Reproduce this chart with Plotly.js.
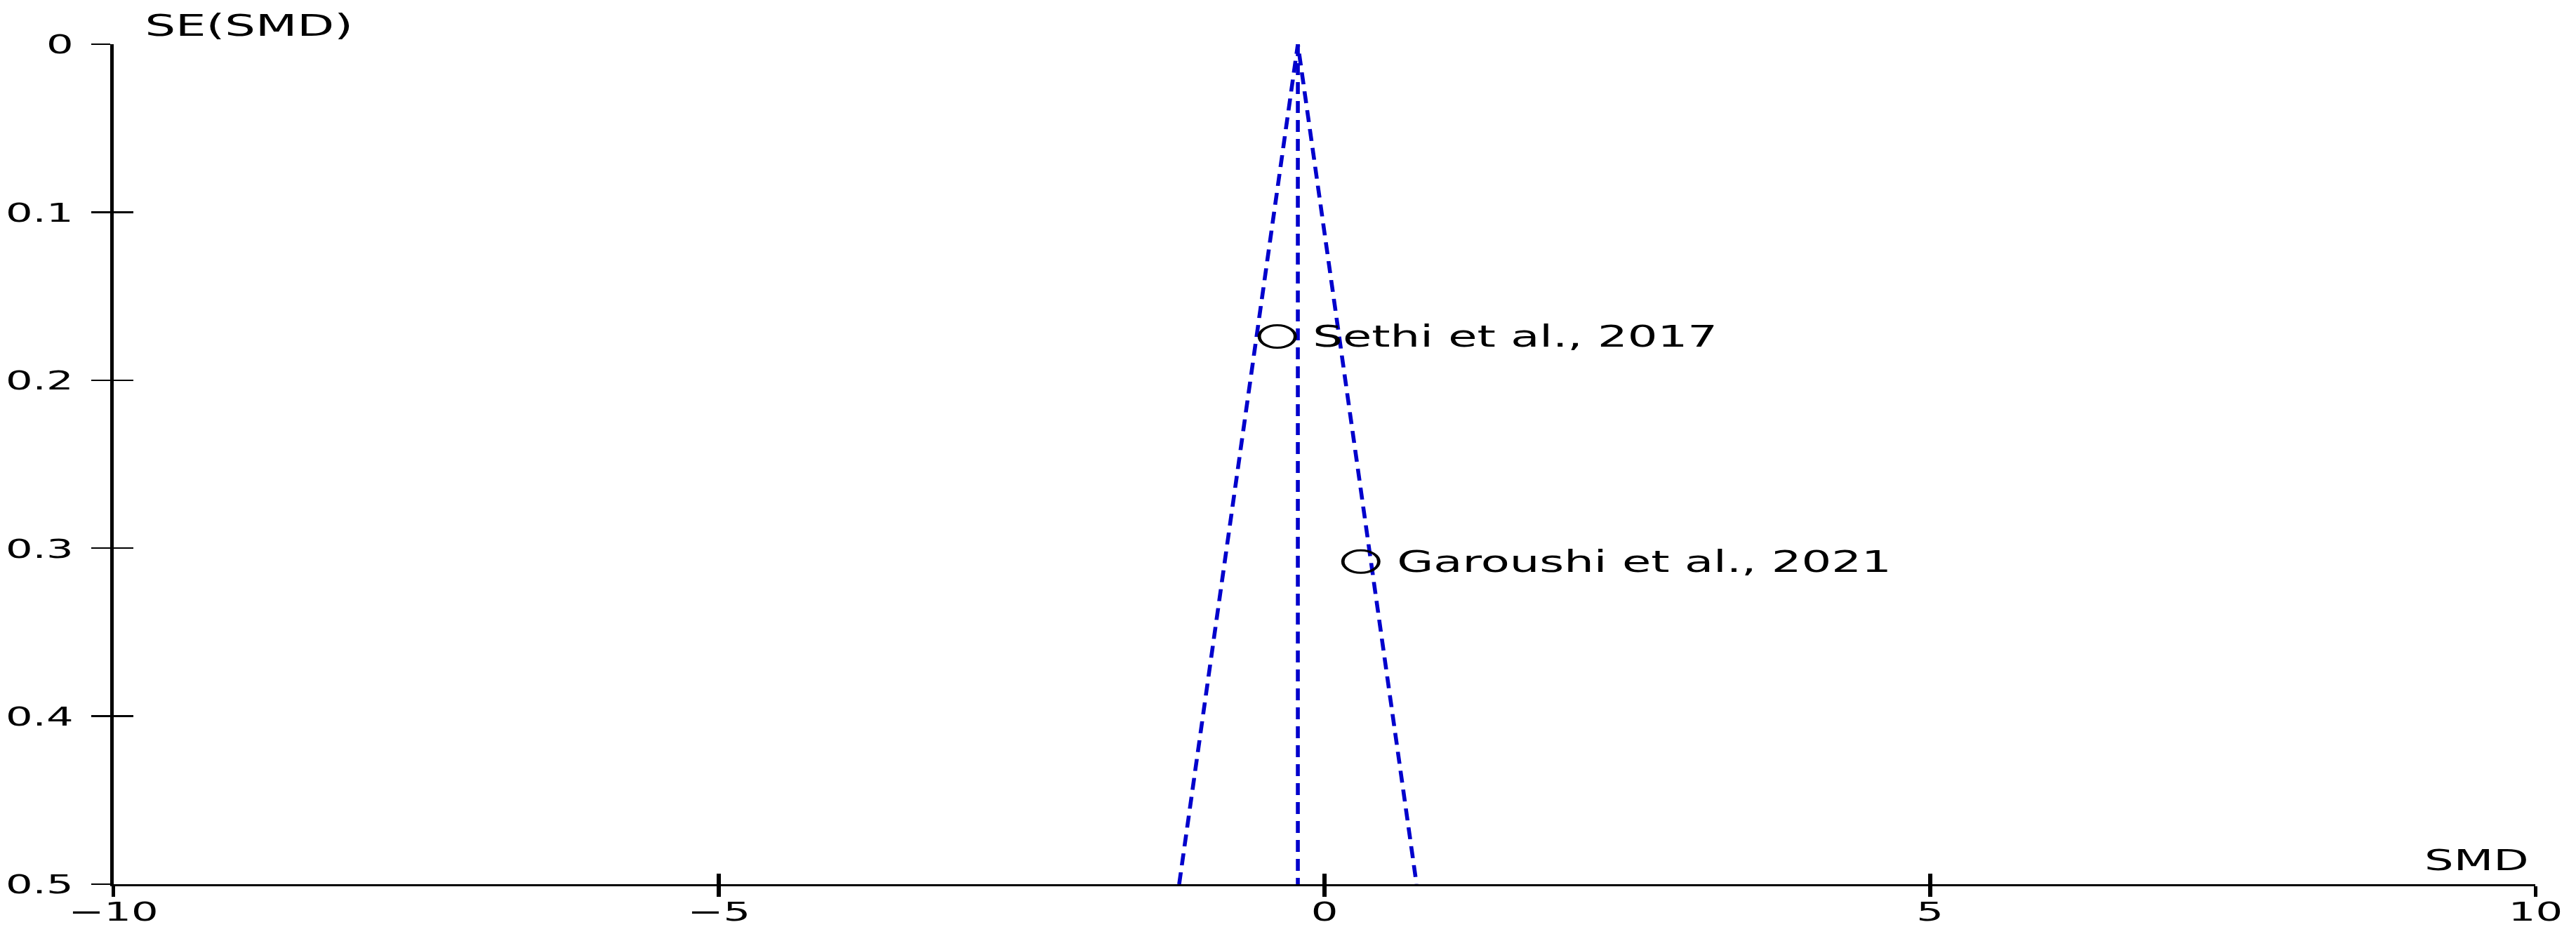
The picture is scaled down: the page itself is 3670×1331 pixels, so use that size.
<!DOCTYPE html>
<html>
<head>
<meta charset="utf-8">
<script src="https://cdn.plot.ly/plotly-3.0.1.min.js"></script>
<style>
  html, body { margin: 0; padding: 0; background: #fff; overflow: hidden; }
  /* the reference is a funnel plot stretched ~1.6x horizontally: draw it narrow, then stretch */
  #wykres { width: 2294px; height: 1331px; transform: scaleX(1.59983); transform-origin: 0 0; }
</style>
</head>
<body>
<div id="wykres"></div>
<script>
// funnel plot SE(SMD) vs SMD
const studies = ['Sethi et al., 2017', 'Garoushi et al., 2021'];
const smd = [-0.39, 0.30];
const se = [0.174, 0.308];

const pooledX = [-0.22, -0.22];          // pooled SMD, vertical line
const pooledY = [0, 0.5];
const funnelX = [-1.20, -0.22, 0.76];     // pseudo 95% limits
const funnelY = [0.5, 0, 0.5];

const xTicks = [-10, -5, 0, 5, 10];
const xTickText = ['\u221210', '\u22125', '0', '5', '10'];
const yTicks = [0, 0.1, 0.2, 0.3, 0.4, 0.5];
const yTickText = ['0', '0.1', '0.2', '0.3', '0.4', '0.5'];

const BLUE = '#0000cc';
const FONT = 'DejaVu Sans, Arial, sans-serif';
const xRange = [-10, 10];
const yRange = [0.5, 0];

const traces = [
  {
    x: funnelX, y: funnelY, mode: 'lines', hoverinfo: 'skip',
    line: { color: BLUE, width: 3.5, dash: '17px,10px' },
  },
  {
    x: pooledX, y: pooledY, mode: 'lines', hoverinfo: 'skip',
    line: { color: BLUE, width: 3.5, dash: '17px,10px' },
  },
  {
    x: smd, y: se, mode: 'markers', hoverinfo: 'skip',
    marker: { symbol: 'circle-open', size: 32, color: '#000', line: { color: '#000', width: 3 } },
  },
  // empty trace so the second (inside-tick) axes get drawn
  { x: [], y: [], xaxis: 'x2', yaxis: 'y2', mode: 'markers', hoverinfo: 'skip' },
];

const annotations = studies.map((s, i) => ({
  text: s, x: smd[i], y: se[i], xref: 'x', yref: 'y',
  xanchor: 'left', yanchor: 'middle', xshift: 30, showarrow: false,
  font: { family: FONT, size: 42, color: '#000' },
}));
annotations.push(
  {
    text: 'SE(SMD)', xref: 'paper', yref: 'paper', x: 0.012, y: 1,
    xanchor: 'left', yanchor: 'bottom', yshift: 0, showarrow: false,
    font: { family: FONT, size: 43, color: '#000' },
  },
  {
    text: 'SMD', xref: 'paper', yref: 'paper', x: 1, y: 0,
    xanchor: 'right', yanchor: 'bottom', xshift: -4, yshift: 8, showarrow: false,
    font: { family: FONT, size: 41, color: '#000' },
  }
);

const tickFont = { family: FONT, size: 38, color: '#000' };

const layout = {
  width: 2294, height: 1331,
  margin: { l: 101, r: 36, t: 63, b: 71 },
  paper_bgcolor: '#fff', plot_bgcolor: '#fff',
  showlegend: false,
  xaxis: {
    range: xRange, fixedrange: true,
    tickvals: xTicks, ticktext: xTickText, tickfont: tickFont,
    ticks: 'outside', ticklen: 15, tickwidth: 3.5, tickcolor: '#000',
    showline: true, linecolor: '#000', linewidth: 3,
    showgrid: false, zeroline: false, ticklabelstandoff: -12,
  },
  yaxis: {
    range: yRange, fixedrange: true,
    tickvals: yTicks, ticktext: yTickText, tickfont: tickFont,
    ticks: 'outside', ticklen: 17, tickwidth: 2.5, tickcolor: '#000',
    showline: true, linecolor: '#000', linewidth: 3,
    showgrid: false, zeroline: false, ticklabelstandoff: 8,
  },
  xaxis2: {
    overlaying: 'x', anchor: 'y2', side: 'bottom', range: xRange, fixedrange: true,
    tickvals: xTicks, showticklabels: false,
    ticks: 'inside', ticklen: 15, tickwidth: 3.5, tickcolor: '#000',
    showline: false, showgrid: false, zeroline: false,
  },
  yaxis2: {
    overlaying: 'y', anchor: 'x2', side: 'left', range: yRange, fixedrange: true,
    tickvals: yTicks, showticklabels: false,
    ticks: 'inside', ticklen: 18, tickwidth: 2.5, tickcolor: '#000',
    showline: false, showgrid: false, zeroline: false,
  },
  annotations: annotations,
};

Plotly.newPlot('wykres', traces, layout, { staticPlot: true, displayModeBar: false });
</script>
</body>
</html>
